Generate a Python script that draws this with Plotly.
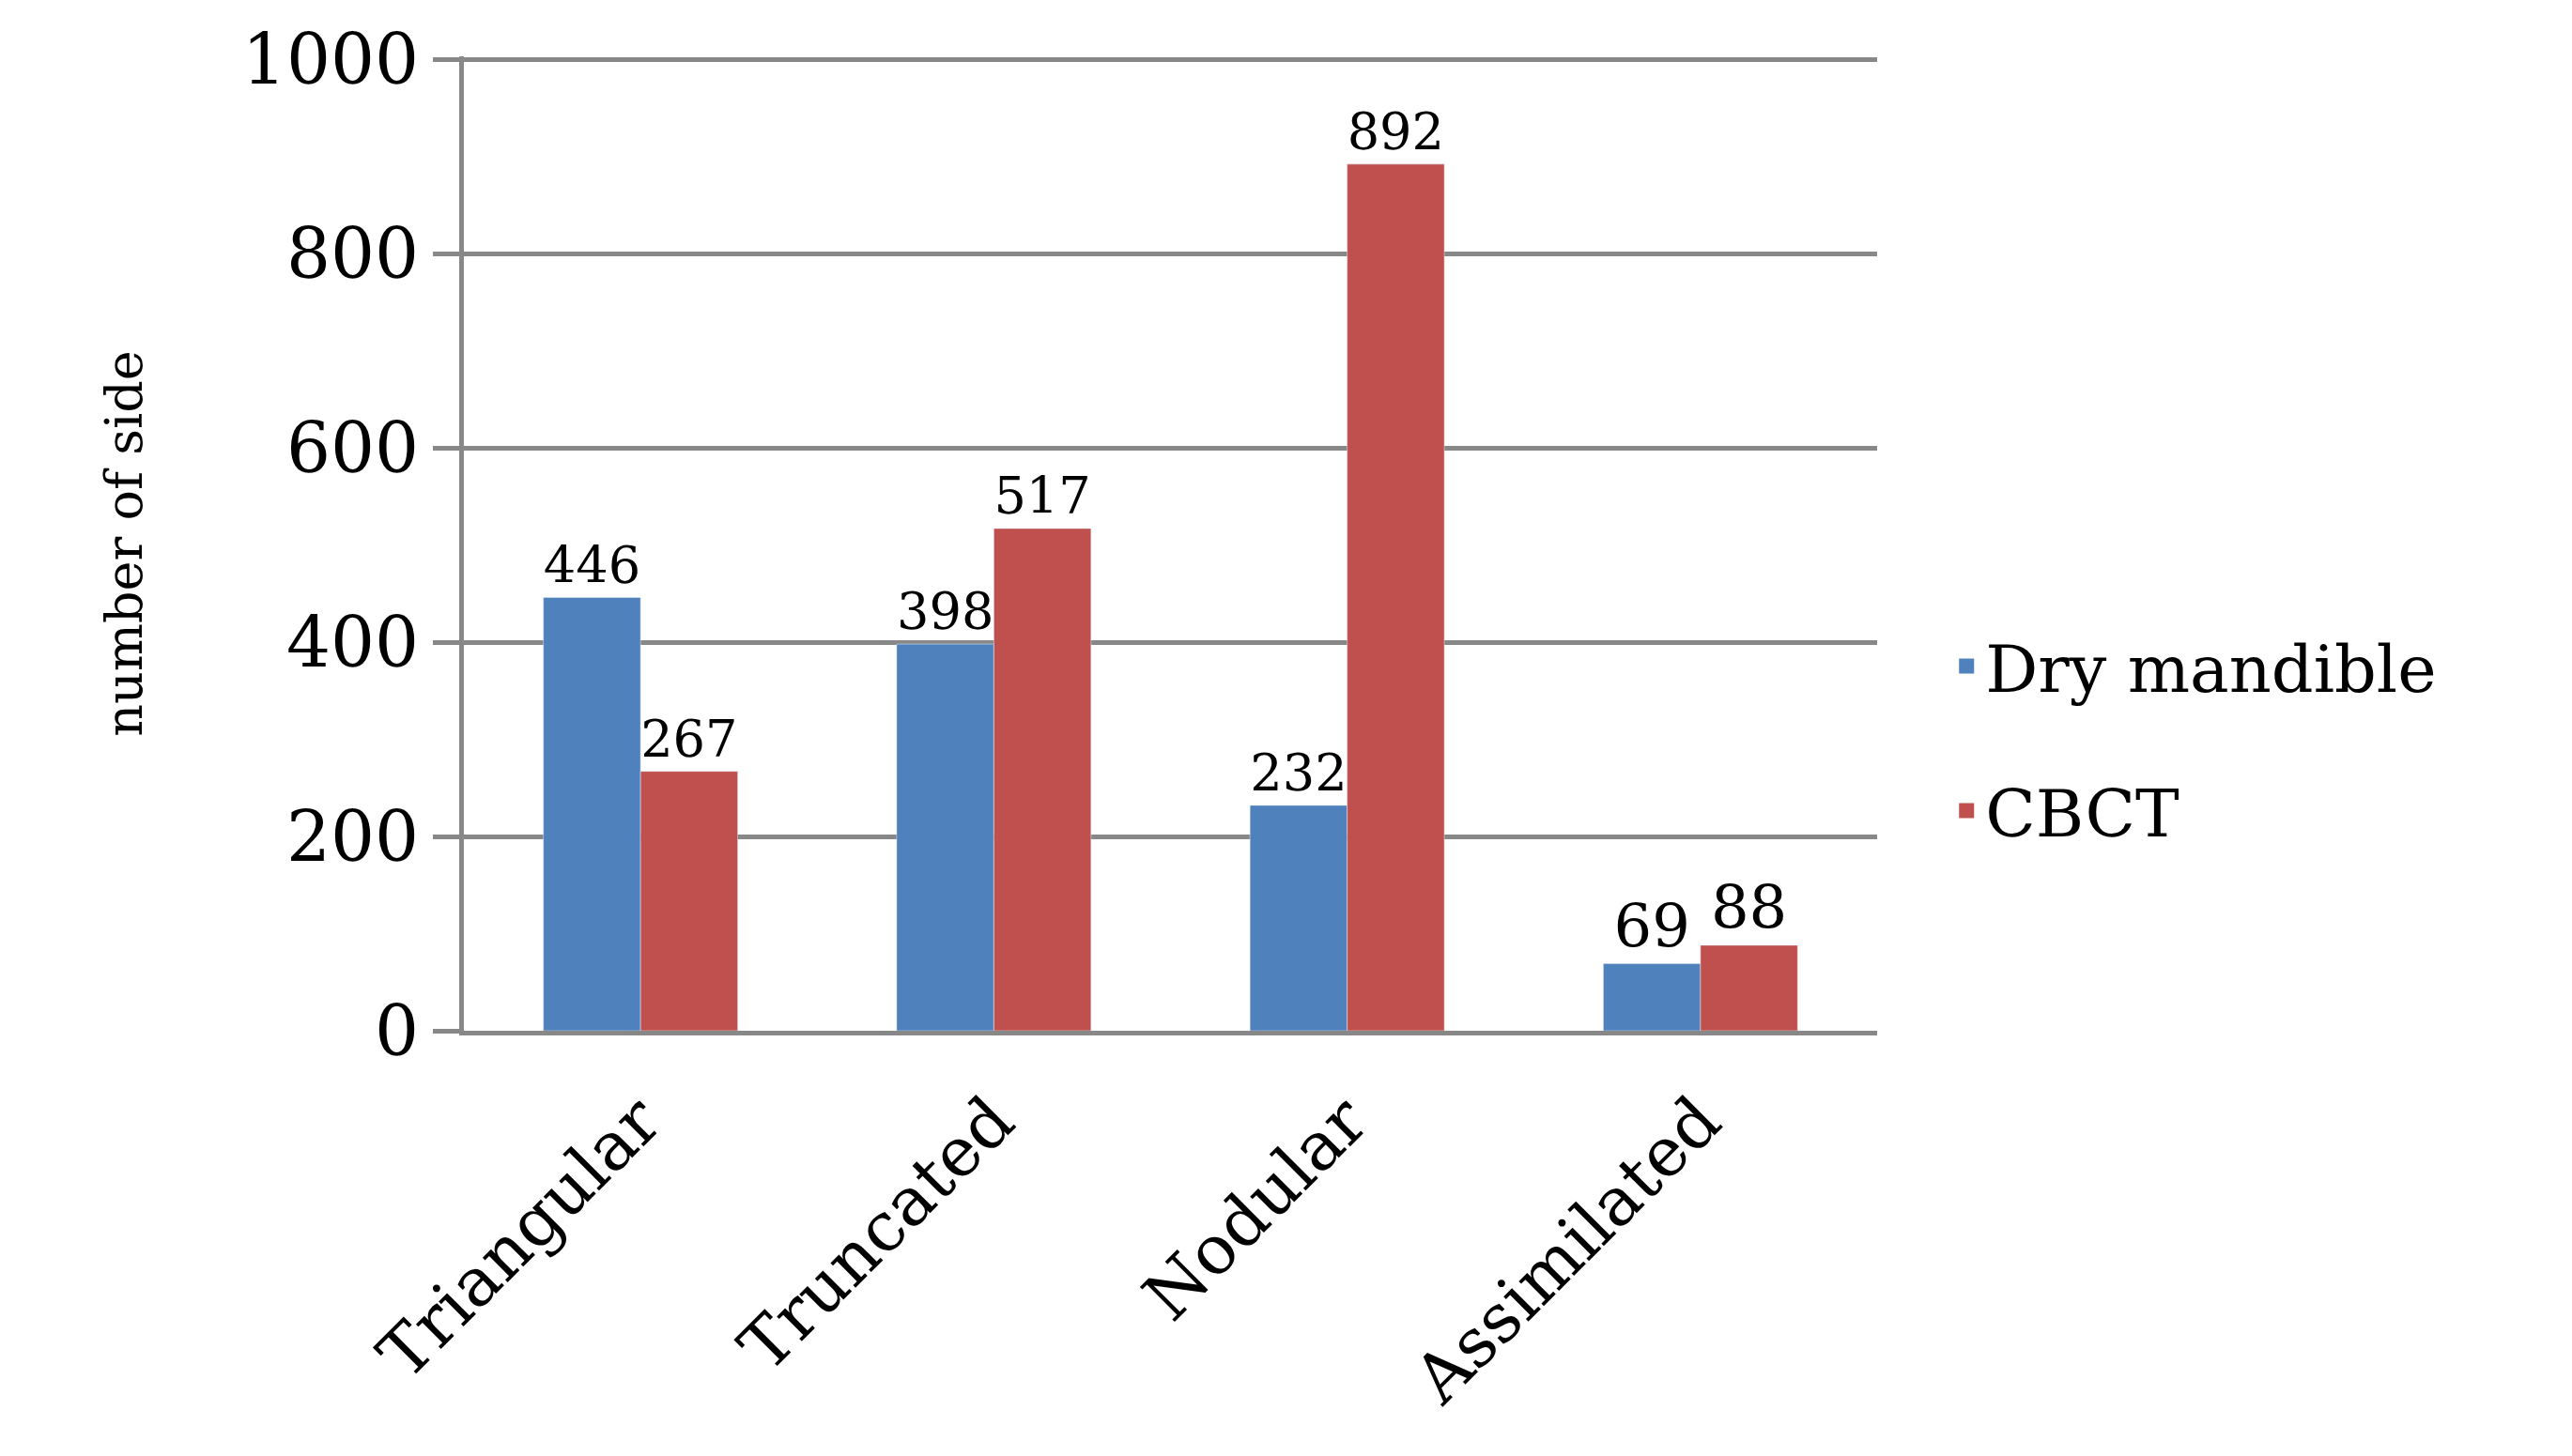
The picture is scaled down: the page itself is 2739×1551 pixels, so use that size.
import plotly.graph_objects as go

categories = ["Triangular", "Truncated", "Nodular", "Assimilated"]
dry = [446, 398, 232, 69]
cbct = [267, 517, 892, 88]
yticks = [0, 200, 400, 600, 800, 1000]
names = ["Dry mandible", "CBCT"]
colors = ["#4F81BD", "#C0504D"]

font = "DejaVu Serif"
fig = go.Figure()
for vals, nm, col in zip([dry, cbct], names, colors):
    fig.add_bar(x=categories, y=vals, name=nm, marker_color=col, showlegend=False,
                text=vals, textposition="outside", cliponaxis=False,
                textfont=dict(family=font, size=64, color="black"))
for nm, col in zip(names, colors):
    fig.add_scatter(x=[None], y=[None], mode="markers", name=nm, legendgroup=nm,
                    marker=dict(symbol="square", size=52, color=col))
fig.update_layout(
    width=2739, height=1551, plot_bgcolor="white", paper_bgcolor="white",
    margin=dict(l=486, r=748, t=49, b=461),
    bargap=0.45, bargroupgap=0,
    font=dict(family=font, color="black"),
    legend=dict(x=1.05, y=0.30, yanchor="middle", font=dict(size=70),
                tracegroupgap=60, itemsizing="trace"),
    yaxis=dict(range=[0, 1003], tickvals=yticks, showgrid=True, gridcolor="#888888",
               gridwidth=5, zeroline=False, ticks="outside", ticklen=28,
               tickcolor="#888888", tickwidth=5, showline=True, linecolor="#888888",
               linewidth=5, tickfont=dict(size=74),
               title=dict(text="number of side", font=dict(size=54), standoff=90)),
    xaxis=dict(tickangle=-45, tickfont=dict(size=72), showline=True,
               linecolor="#888888", linewidth=5, ticklen=20, ticks="outside",
               tickcolor="white"),
)
fig.write_html("out.html")
